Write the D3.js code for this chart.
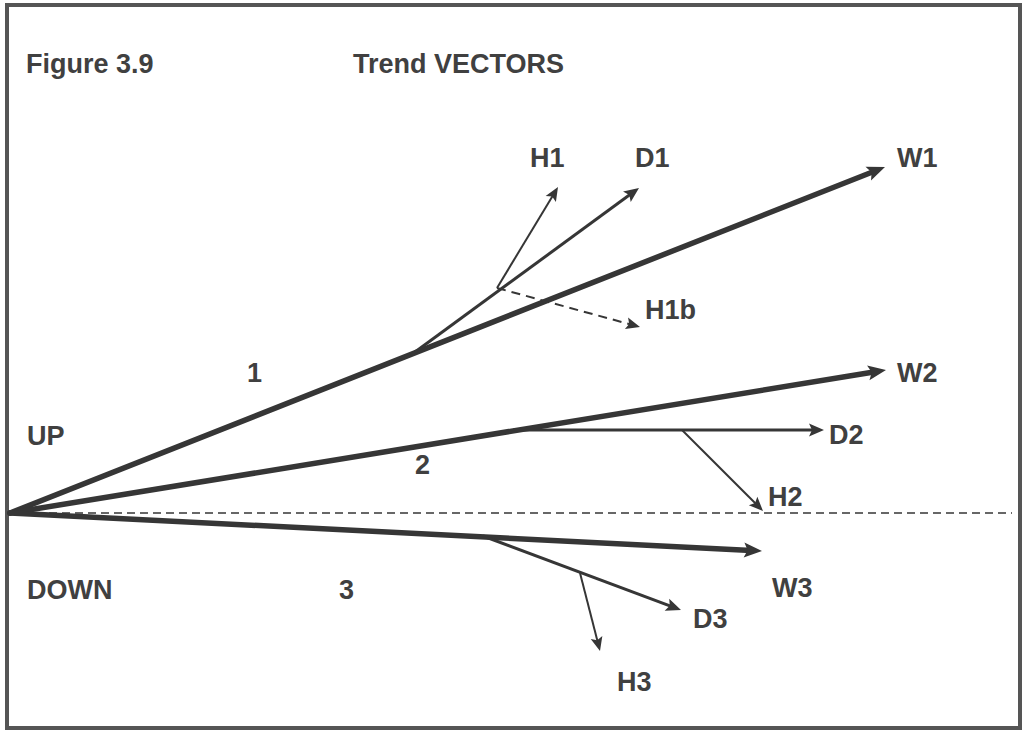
<!DOCTYPE html>
<html>
<head>
<meta charset="utf-8">
<script src="https://cdn.jsdelivr.net/npm/d3@7"></script>
<style>
  html, body { margin: 0; padding: 0; background: #ffffff; }
  svg { display: block; }
</style>
</head>
<body>
<svg id="chart" width="1028" height="732"></svg>
<script>
// ---- Data (abstract diagram units: x = time, y = trend strength) ----
const vectorNames = ["W1", "W2", "W3", "D1", "H1", "H1b", "D2", "H2", "D3", "H3"];
const vectorKinds = ["W", "W", "W", "D", "H", "H", "D", "H", "D", "H"];
const vectorFromX = [0, 0, 0, 405, 487, 487, 503, 672, 473, 570];
const vectorFromY = [0, 0, 0, 161, 225, 225, 83, 83, -23, -60];
const vectorToX   = [875, 876, 752, 629, 548, 630, 814, 753, 671, 590];
const vectorToY   = [346, 143, -38, 325, 326, 186, 83, 2, -97, -138];
const vectorDashed = [false, false, false, false, false, true, false, false, false, false];

const baselineX = [0, 1002];
const baselineY = [0, 0];

const labelTexts = ["W1", "D1", "H1", "H1b", "W2", "D2", "H2", "W3", "D3", "H3", "1", "2", "3", "UP", "DOWN"];
const labelX = [887, 625, 520, 635, 887, 819, 758, 762, 683, 607, 237, 405, 329, 17, 17];
const labelY = [346, 346, 346, 194, 131, 69, 7, -84, -115, -178, 131, 39, -86, 68, -86];

const titleLeft = "Figure 3.9";
const titleRight = "Trend VECTORS";

// ---- Scales ----
const svg = d3.select("#chart");
const x = d3.scaleLinear().domain([0, 1000]).range([10, 1010]);
const y = d3.scaleLinear().domain([0, 500]).range([513, 13]);

const ink = "#363636";
const textInk = "#404040";
const fontFam = "'Liberation Sans', Arial, sans-serif";
const fontSize = 27;
const styleByKind = {
  W: { width: 5.5, L: 18, w: 7.5 },
  D: { width: 3, L: 15, w: 6.5 },
  H: { width: 2, L: 14, w: 6 }
};

// Frame
svg.append("rect")
  .attr("x", 7).attr("y", 5).attr("width", 1013).attr("height", 723)
  .attr("fill", "#ffffff").attr("stroke", "#555555").attr("stroke-width", 4);

// Dashed baseline
svg.append("line")
  .attr("x1", x(baselineX[0])).attr("y1", y(baselineY[0]))
  .attr("x2", x(baselineX[1])).attr("y2", y(baselineY[1]))
  .attr("stroke", ink).attr("stroke-width", 1.5)
  .attr("stroke-dasharray", "8,5");

// Vectors
const vectors = vectorNames.map((n, i) => ({
  name: n, kind: vectorKinds[i],
  x0: vectorFromX[i], y0: vectorFromY[i],
  x1: vectorToX[i], y1: vectorToY[i],
  dashed: vectorDashed[i]
}));

const g = svg.append("g");
vectors.forEach(v => {
  const s = styleByKind[v.kind];
  const px0 = x(v.x0), py0 = y(v.y0), px1 = x(v.x1), py1 = y(v.y1);
  const dx = px1 - px0, dy = py1 - py0;
  const len = Math.hypot(dx, dy);
  const ux = dx / len, uy = dy / len;
  const nx = -uy, ny = ux;
  const bx = px1 - ux * s.L, by = py1 - uy * s.L;
  g.append("line")
    .attr("x1", px0).attr("y1", py0)
    .attr("x2", px1 - ux * s.L * 0.6).attr("y2", py1 - uy * s.L * 0.6)
    .attr("stroke", ink).attr("stroke-width", s.width)
    .attr("stroke-linecap", v.kind === "W" ? "round" : "butt")
    .attr("stroke-dasharray", v.dashed ? "9,6" : null);
  g.append("path")
    .attr("d", d3.line()([[px1, py1], [bx + nx * s.w, by + ny * s.w], [bx + ux * s.L * 0.2, by + uy * s.L * 0.2], [bx - nx * s.w, by - ny * s.w]]) + "Z")
    .attr("fill", ink);
});

// Labels
svg.append("g").selectAll("text")
  .data(labelTexts)
  .join("text")
  .attr("x", (d, i) => x(labelX[i]))
  .attr("y", (d, i) => y(labelY[i]))
  .attr("font-family", fontFam)
  .attr("font-weight", "bold")
  .attr("font-size", fontSize)
  .attr("fill", textInk)
  .text(d => d);

// Titles
svg.append("text")
  .attr("x", 26).attr("y", 73)
  .attr("font-family", fontFam)
  .attr("font-weight", "bold").attr("font-size", fontSize)
  .attr("fill", textInk)
  .text(titleLeft);
svg.append("text")
  .attr("x", 353).attr("y", 73)
  .attr("font-family", fontFam)
  .attr("font-weight", "bold").attr("font-size", fontSize)
  .attr("fill", textInk)
  .text(titleRight);
</script>
</body>
</html>
